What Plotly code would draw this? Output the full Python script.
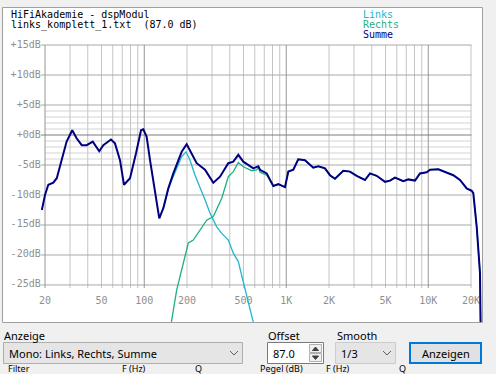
import math
import plotly.graph_objects as go

W, H = 496, 374

# ---------------- data ----------------
summe_hz = [19, 20, 21.1, 22.9, 24.2, 26.2, 28.4, 31.1, 33.4, 36.3,
            39.3, 43.4, 48.2, 51.5, 58.3, 62.2, 67.5, 72.0, 79.4, 87.5,
            94.9, 98.5, 104, 109.8, 119, 127.6, 136.2, 147.7, 160.2, 183.5,
            199, 215.9, 234, 267.8, 306.4, 341.6, 390.7, 423.8, 459.5, 498.3,
            586.1, 635.6, 653.4, 728.4, 810.6, 879, 979.7, 1034, 1121, 1215,
            1355, 1550, 1681, 1874, 2032, 2204, 2522, 2811, 3134, 3585,
            3888, 4335, 4960, 5378, 5832, 6673, 7235, 8065, 8746, 9750,
            10290, 11770, 13490, 15010, 16730, 18650, 20230, 20760, 21940, 22770,
            23140, 23400]
summe_db = [-12.5, -10, -8.3, -7.95, -7.2, -4.2, -1.1, 0.8, -0.55, -1.7,
            -1.7, -1.1, -2.7, -1.7, -0.75, -1.4, -4.2, -8.3, -7.2, -3.05,
            0.8, 0.95, -0.3, -4.2, -9.7, -13.9, -12.2, -8.9, -6.4, -2.8,
            -1.55, -3.05, -4.7, -5.8, -7.95, -6.95, -4.7, -4.45, -3.3, -4.45,
            -5.55, -5.2, -5.8, -6.4, -8.5, -8.2, -8.7, -6.1, -5.8, -4.05,
            -4.2, -5.45, -5.2, -5.55, -6.7, -7.3, -5.95, -6.1, -6.8, -7.5,
            -6.4, -6.8, -7.8, -7.6, -7.1, -7.7, -7.4, -7.6, -6.4, -6.2,
            -5.8, -5.7, -6.3, -6.7, -7.5, -8.9, -9.3, -9.7, -15.3, -19.7,
            -23, -33]

links_hz = [136.2, 147.7, 160.2, 169.3, 183.5, 197, 210, 227.8, 247, 267.8,
            290.4, 323.8, 351.2, 390.7, 423.8, 459.5, 498.3, 540.3, 580.4, 612]
links_db = [-12.3, -9.0, -6.9, -5.5, -3.6, -2.8, -4.2, -6.7, -8.6, -10.8,
            -13, -15.3, -16.4, -17.5, -19.7, -21.1, -24.5, -28, -30.8, -33]

rechts_hz = [151.8, 156.1, 169.3, 188.3, 204.3, 221.5, 247, 275.3, 306.4, 351.2,
             390.7, 423.8, 459.5, 498.3, 571, 619.2, 635.6, 653.4, 728.4]
rechts_db = [-33, -30.8, -25.8, -21.1, -18, -17.5, -15.8, -14.2, -13.6, -10.55,
             -6.95, -6.1, -4.6, -5.3, -5.95, -5.8, -5.3, -6.2, -6.7]
# above ~800 Hz Rechts equals the sum (Links is far below)
rechts_hz_full = rechts_hz + [f for f in summe_hz if f >= 800]
rechts_db_full = rechts_db + [d for f, d in zip(summe_hz, summe_db) if f >= 800]

x_tick_vals = [20, 50, 100, 200, 500, 1000, 2000, 5000, 10000, 20000]
x_tick_text = ["20", "50", "100", "200", "500", "1K", "2K", "5K", "10K", "20K"]
y_tick_vals = [15, 10, 5, 0, -5, -10, -15, -20, -25]
y_tick_text = ["+15dB", "+10dB", "+5dB", "+0dB", "-5dB", "-10dB", "-15dB", "-20dB", "-25dB"]

series_names = ["Links", "Rechts", "Summe"]
series_colors = ["#22b4d2", "#1fb083", "#000080"]

# ---------------- layout helpers ----------------
def PX(x):
    return x / W

def PY(y):
    return 1 - y / H

# axis ranges: panel spans px 3..482 horizontally, 8..322 vertically
x_range = [1.00526, 4.37849]
y_range = [-31.17, 21.17]

fig = go.Figure()

# ---------------- grid as line traces ----------------
def add_lines(segs, color, width=1):
    xs, ys = [], []
    for (x0, y0, x1, y1) in segs:
        xs += [x0, x1, None]
        ys += [y0, y1, None]
    fig.add_trace(go.Scatter(x=xs, y=ys, mode="lines", hoverinfo="skip",
                             line=dict(color=color, width=width), showlegend=False))

grid_freqs = []
for dec in [10, 100, 1000, 10000]:
    for m in range(1, 10):
        f = dec * m
        if 20 <= f <= 20000:
            grid_freqs.append(f)
major_f = [20, 100, 1000, 10000]
minor_v = [(f, -25.5, f, 15) for f in grid_freqs if f not in major_f]
major_v = [(f, -25.5, f, 15) for f in major_f]
minor_h = [(20, d, 20000, d) for d in range(-4, 5) if d != 0]
major_h = [(18.75, d, 20150, d) for d in y_tick_vals if d != 0]
zero_h = [(18.75, 0, 20150, 0)]

add_lines(minor_h, "#d4d4d4")
add_lines(minor_v, "#c4c4c4")
add_lines(major_h, "#a8a8a8")
add_lines(major_v, "#969696")
add_lines(zero_h, "#7c7c7c")

# tick labels as text traces (under the curves)
fig.add_trace(go.Scatter(x=x_tick_vals, y=[-27.7] * len(x_tick_vals), mode="text",
                         text=x_tick_text, textposition="middle center", hoverinfo="skip",
                         textfont=dict(family="DejaVu Sans Mono", size=10, color="#8f8f8f"),
                         showlegend=False))
fig.add_trace(go.Scatter(x=[18.66] * len(y_tick_vals), y=y_tick_vals, mode="text",
                         text=y_tick_text, textposition="middle left", hoverinfo="skip",
                         textfont=dict(family="DejaVu Sans Mono", size=10, color="#8f8f8f"),
                         showlegend=False))

# ---------------- curves ----------------
fig.add_trace(go.Scatter(x=links_hz, y=links_db, mode="lines", name="Links",
                         line=dict(color=series_colors[0], width=1.3), showlegend=False))
fig.add_trace(go.Scatter(x=rechts_hz_full, y=rechts_db_full, mode="lines", name="Rechts",
                         line=dict(color=series_colors[1], width=1.3), showlegend=False))
fig.add_trace(go.Scatter(x=summe_hz, y=summe_db, mode="lines", name="Summe",
                         line=dict(color=series_colors[2], width=2), showlegend=False))

# ---------------- annotations ----------------
ann = []
def text(x, y, s, color="#000000", size=10, family="DejaVu Sans Mono", anchor="left"):
    ann.append(dict(x=PX(x), y=PY(y), xref="paper", yref="paper", text=s, showarrow=False,
                    xanchor=anchor, yanchor="middle",
                    font=dict(family=family, size=size, color=color)))

text(9, 14.5, "HiFiAkademie - dspModul")
text(9, 24.5, "links_komplett_1.txt  (87.0 dB)")
for i, (n, c) in enumerate(zip(series_names, series_colors)):
    text(361, 14.5 + 10 * i, n, color=c)

ui_font = "Noto Sans"
text(2, 335, "Anzeige", size=11, family=ui_font)
text(266, 335, "Offset", size=11, family=ui_font)
text(335, 335, "Smooth", size=11, family=ui_font)
text(7, 353, "Mono: Links, Rechts, Summe", size=11, family=ui_font)
text(271, 353, "87.0", size=11, family=ui_font)
text(339, 353, "1/3", size=11, family=ui_font)
text(445.5, 353, "Anzeigen", size=11, family=ui_font, anchor="center")
for xx, s in [(6, "Filter"), (120, "F (Hz)"), (193, "Q"), (258, "Pegel (dB)"), (324, "F (Hz)"), (397, "Q")]:
    text(xx, 368.5, s, size=9, family=ui_font)

# ---------------- shapes (UI) ----------------
shapes = []
def rect(x0, y0, x1, y1, fill=None, line="#a0a0a0", lw=1):
    shapes.append(dict(type="rect", xref="paper", yref="paper",
                       x0=PX(x0), x1=PX(x1), y0=PY(y0), y1=PY(y1),
                       fillcolor=fill if fill else "rgba(0,0,0,0)",
                       line=dict(color=line, width=lw), layer="above"))

def path(pts, color="#505050", lw=1, fill=None, closed=False):
    d = "M " + " L ".join(f"{PX(x):.5f},{PY(y):.5f}" for x, y in pts)
    if closed:
        d += " Z"
    shapes.append(dict(type="path", xref="paper", yref="paper", path=d,
                       line=dict(color=color, width=lw),
                       fillcolor=fill if fill else "rgba(0,0,0,0)", layer="above"))

rect(2.5, 7.5, 482.5, 322.5, line="#a0a0a0")
# Anzeige combobox
rect(3.5, 342.5, 242.5, 363.5, fill="#e5e5e5", line="#adadad")
path([(230, 351), (234, 355), (238, 351)], color="#606060")
# Offset numeric box
rect(267.5, 342.5, 323.5, 363.5, fill="#ffffff", line="#7a7a7a")
rect(309.5, 344.5, 321.5, 352.5, fill="#f0f0f0", line="#b0b0b0")
rect(309.5, 353.5, 321.5, 361.5, fill="#f0f0f0", line="#b0b0b0")
path([(312.5, 350.5), (315.5, 347), (318.5, 350.5)], color="#404040", fill="#404040", closed=True)
path([(312.5, 356), (315.5, 359.5), (318.5, 356)], color="#404040", fill="#404040", closed=True)
# Smooth combobox
rect(335.5, 342.5, 395.5, 363.5, fill="#e5e5e5", line="#cccccc")
path([(383, 351), (387, 355), (391, 351)], color="#606060")
# Button
rect(410, 343, 481, 363, fill="#e1e1e1", line="#0078d7", lw=2)

fig.update_layout(
    width=W, height=H,
    margin=dict(l=0, r=0, t=0, b=0),
    paper_bgcolor="#f0f0f0",
    plot_bgcolor="#ffffff",
    showlegend=False,
    xaxis=dict(type="log", range=x_range, domain=[PX(3), PX(482)],
               showgrid=False, zeroline=False, showticklabels=False, ticks="",
               fixedrange=True),
    yaxis=dict(range=y_range, domain=[PY(322), PY(8)],
               showgrid=False, zeroline=False, showticklabels=False, ticks="",
               fixedrange=True),
    annotations=ann,
    shapes=shapes,
)

fig.write_html("out.html", config={"displayModeBar": False},
               post_script="document.body.style.margin='0';document.body.style.overflow='hidden';")
